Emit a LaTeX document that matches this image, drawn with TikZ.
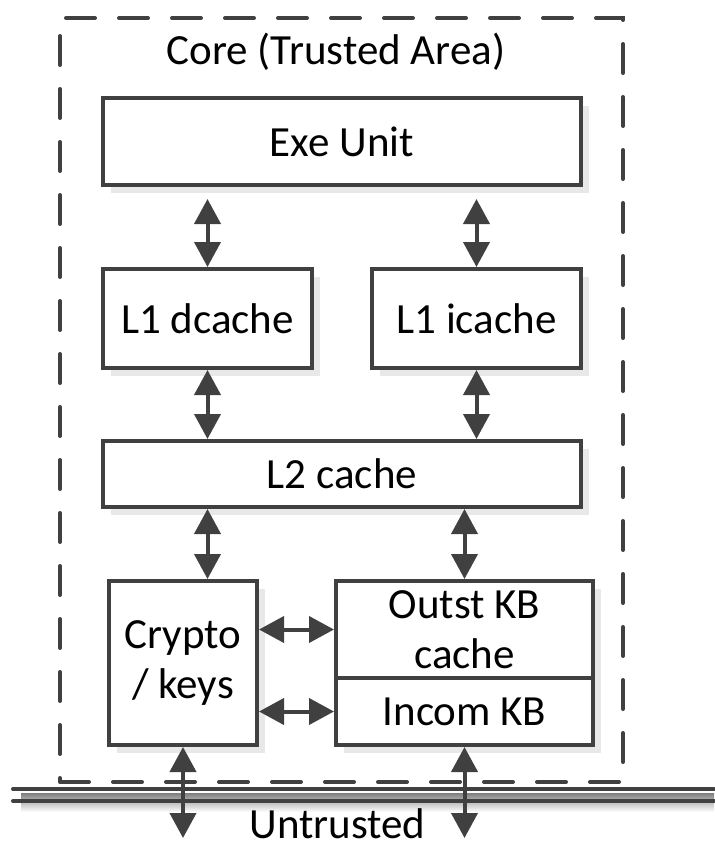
\documentclass[tikz,border=0pt]{standalone}
\usepackage{fontspec}
\setmainfont{Carlito}
\usetikzlibrary{arrows.meta,shadows}
\definecolor{edge}{RGB}{64,64,64}
\definecolor{shade}{RGB}{232,232,232}

\begin{document}
\begin{tikzpicture}[x=0.5pt,y=-0.5pt]
    \tikzstyle{unit} = [rectangle, draw=edge, line width=2pt, fill=white, text=black,
    align=center, font=\fontsize{21.5}{25}\selectfont, inner sep=0pt,
    drop shadow={shadow xshift=4pt, shadow yshift=-4pt, fill=shade, opacity=1}];
    \tikzstyle{trusted} = [rectangle, draw=edge, line width=2pt, line cap=round,
    dash pattern=on 14.5pt off 12pt, minimum width=281.5pt, minimum height=382pt];
    \tikzstyle{tag} = [font=\fontsize{21.5}{25}\selectfont, inner sep=0pt, anchor=base];
    \tikzstyle{bus} = [draw=edge, line width=2pt, line cap=round];
    \tikzstyle{link} = [draw=edge, line width=2pt,
    {Triangle[length=12.5pt,width=13pt]}-{Triangle[length=12.5pt,width=13pt]}];

    \useasboundingbox (0,0) rectangle (714,846);

    % trusted area
    \node [trusted] (core) at (341.5,400) {};
    \node [tag] (coretitle) at (336,64) {Core (Trusted Area)};

    % untrusted side
    \fill [shade] (21,793) rectangle (714,812);
    \draw [bus] (13,789) -- (714,789);
    \draw [bus] (13,801) -- (714,801);
    \node [tag] (untrusted) at (337.5,838) {Untrusted};

    % Row 1
    \node [unit, minimum width=239pt, minimum height=43.5pt] (exe) at (342,141.5) {Exe Unit};
    % Row 2
    \node [unit, minimum width=104.5pt, minimum height=49.5pt] (l1d) at (207.5,318.5) {L1 dcache};
    \node [unit, minimum width=104.5pt, minimum height=49.5pt] (l1i) at (476.5,318.5) {L1 icache};
    % Row 3
    \node [unit, minimum width=239pt, minimum height=33pt] (l2) at (342,474) {L2 cache};
    % Row 4
    \node [unit, minimum width=74pt, minimum height=82pt] (crypto) at (183,663) {Crypto\\/ keys};
    \node [unit, minimum width=128.5pt, minimum height=48.5pt] (outst) at (464.5,629.5) {Outst KB\\cache};
    \node [unit, minimum width=128.5pt, minimum height=33.5pt] (incom) at (464.5,711.5) {Incom KB};

    \coordinate (cryptoout) at (183,838);
    \coordinate (incomout) at (464.5,838);

    \tikzstyle{every path}=[link]
      % % Drawing the links
      \draw [shorten <=6pt] (exe.south -| l1d.north) -- (l1d.north);
      \draw [shorten <=6pt] (exe.south -| l1i.north) -- (l1i.north);
      \draw (l1d.south) -- (l1d.south |- l2.north);
      \draw (l1i.south) -- (l1i.south |- l2.north);
      \draw (l2.south -| l1d.south) -- (crypto.north -| l1d.south);
      \draw (outst.north |- l2.south) -- (outst.north);
      \draw (crypto.east |- outst.west) -- (outst.west);
      \draw (crypto.east |- incom.west) -- (incom.west);
      \draw (crypto.south) -- (cryptoout);
      \draw (incom.south) -- (incomout);
\end{tikzpicture}
\end{document}
